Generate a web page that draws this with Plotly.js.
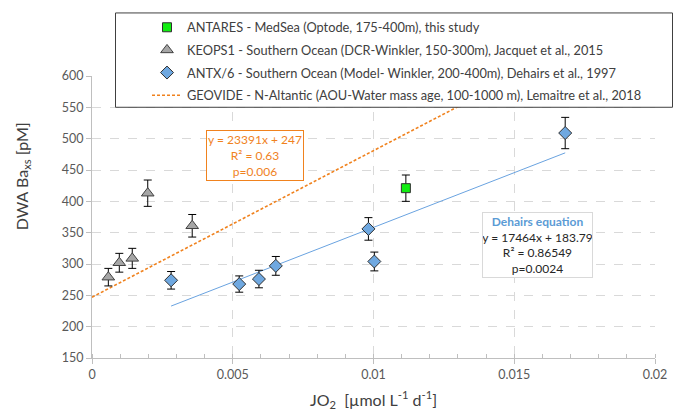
<!DOCTYPE html>
<html>
<head>
<meta charset="utf-8">
<script src="https://cdn.plot.ly/plotly-3.0.1.min.js"></script>
<style>html,body{margin:0;padding:0;background:#fff}#chart{width:674px;height:412px}</style>
</head>
<body>
<div id="chart"></div>
<script>
// ---- Data ----
const xAntares = [0.01115];
const yAntares = [421];
const eAntares = [21];

const xKeops = [0.00058, 0.00097, 0.00143, 0.00198, 0.00356];
const yKeops = [279, 302, 309, 413, 361];
const eKeops = [14, 15, 16, 21, 18];

const xAntx = [0.00281, 0.00523, 0.00593, 0.00653, 0.00982, 0.01003, 0.01681];
const yAntx = [274, 268, 276, 297, 356, 304, 509];
const eAntx = [14, 13, 14, 15, 18, 15, 25];

// Trendline equations shown on the chart
const geovideSlope = 23391, geovideIntercept = 247;
const dehairsSlope = 17464, dehairsIntercept = 183.79;
const geovideX = [0, 0.02];
const dehairsX = [Math.min(...xAntx), Math.max(...xAntx)];

const xTickVals = [0, 0.005, 0.01, 0.015, 0.02];
const xTickText = ['0', '0.005', '0.01', '0.015', '0.02'];

const names = [
  'ANTARES - MedSea (Optode, 175-400m), this study',
  'KEOPS1 - Southern Ocean (DCR-Winkler, 150-300m), Jacquet et al., 2015',
  'ANTX/6 - Southern Ocean (Model- Winkler, 200-400m), Dehairs et al., 1997',
  'GEOVIDE - N-Altantic (AOU-Water mass age, 100-1000 m), Lemaitre et al., 2018'
];

const err = (arr) => ({type: 'data', array: arr, visible: true, color: '#000', thickness: 1, width: 4});

const traces = [
  {x: geovideX, y: geovideX.map(v => geovideSlope * v + geovideIntercept), mode: 'lines',
   name: names[3], legendgroup: 'g4', legendrank: 4,
   line: {color: '#F0821E', width: 1.6, dash: '3px,2px'}},
  {x: dehairsX, y: dehairsX.map(v => dehairsSlope * v + dehairsIntercept), mode: 'lines',
   showlegend: false, line: {color: '#6AA3E0', width: 1}},
  {x: xKeops, y: yKeops, mode: 'markers', name: names[1], legendgroup: 'g2', legendrank: 2,
   error_y: err(eKeops),
   marker: {symbol: 'triangle-up', size: 11, color: '#A6A6A6', line: {color: '#404040', width: 1}}},
  {x: xAntx, y: yAntx, mode: 'markers', name: names[2], legendgroup: 'g3', legendrank: 3,
   error_y: err(eAntx),
   marker: {symbol: 'diamond', size: 10, color: '#6FA8E0', line: {color: '#303030', width: 1}}},
  {x: xAntares, y: yAntares, mode: 'markers', name: names[0], legendgroup: 'g1', legendrank: 1,
   error_y: err(eAntares),
   marker: {symbol: 'square', size: 9, color: '#11EE11', line: {color: '#303030', width: 1}}}
];

const font = 'Lato, "Open Sans", sans-serif';
const px2x = (p) => (p - 92) / 563;
const px2y = (p) => (358 - p) / 284;

const layout = {
  width: 674, height: 412,
  margin: {l: 92, r: 19, t: 74, b: 54},
  paper_bgcolor: '#fff', plot_bgcolor: '#fff',
  font: {family: font, color: '#404040', size: 12},
  showlegend: true,
  legend: {
    x: px2x(147), y: px2y(10), xanchor: 'left', yanchor: 'top',
    bgcolor: 'rgba(0,0,0,0)', borderwidth: 0,
    font: {family: font, size: 12.8, color: '#404040'},
    traceorder: 'grouped', tracegroupgap: 3
  },
  xaxis: {
    range: [0, 0.02], tickvals: xTickVals, ticktext: xTickText,
    showgrid: true, gridcolor: '#D9D9D9', griddash: 'dash', gridwidth: 1,
    zeroline: false, showline: true, linecolor: '#BFBFBF', linewidth: 1,
    ticks: 'outside', ticklen: 5, tickcolor: '#BFBFBF',
    minor: {dtick: 0.001, ticks: 'inside', ticklen: 4, tickcolor: '#BFBFBF', showgrid: false},
    tickfont: {family: font, size: 12.5, color: '#595959'},
    title: {text: 'JO<sub>2</sub>  [µmol L<sup>-1</sup> d<sup>-1</sup>]', font: {family: font, size: 16, color: '#404040'}, standoff: 13}
  },
  yaxis: {
    range: [150, 600], dtick: 50,
    showgrid: true, gridcolor: '#D9D9D9', griddash: 'dash', gridwidth: 1,
    zeroline: false, showline: true, linecolor: '#BFBFBF', linewidth: 1,
    ticks: 'outside', ticklen: 5, tickcolor: '#BFBFBF',
    tickfont: {family: font, size: 12.5, color: '#595959'}
  },
  shapes: [
    {type: 'rect', xref: 'paper', yref: 'paper', layer: 'above',
     x0: px2x(115.5), x1: px2x(672.5), y0: px2y(105.5), y1: px2y(10.5),
     fillcolor: '#fff', line: {color: '#404040', width: 1}}
  ],
  annotations: [
    {xref: 'paper', yref: 'paper', x: px2x(22), y: px2y(175), xanchor: 'center', yanchor: 'middle',
     showarrow: false, textangle: -90,
     text: 'DWA Ba<sub>xs</sub> [pM]',
     font: {family: font, size: 16, color: '#404040'}},
    {xref: 'paper', yref: 'paper', x: px2x(254.5), y: px2y(154.5), xanchor: 'center', yanchor: 'middle',
     showarrow: false, align: 'center',
     text: 'y = 23391x + 247<br>R² = 0.63<br>p=0.006',
     font: {family: font, size: 12, color: '#F0821E'},
     bordercolor: '#F0821E', borderwidth: 1, borderpad: 0, bgcolor: '#fff',
     width: 96, height: 49},
    {xref: 'paper', yref: 'paper', x: px2x(537.5), y: px2y(244), xanchor: 'center', yanchor: 'middle',
     showarrow: false, align: 'center',
     text: '<b><span style="color:#5B9BD5">Dehairs equation</span></b><br>y = 17464x + 183.79<br>R² = 0.86549<br>p=0.0024',
     font: {family: font, size: 12, color: '#262626'},
     bordercolor: '#D9D9D9', borderwidth: 1, borderpad: 0, bgcolor: '#fff',
     width: 109, height: 64}
  ]
};

Plotly.newPlot('chart', traces, layout, {displayModeBar: false, staticPlot: true});
</script>
</body>
</html>
